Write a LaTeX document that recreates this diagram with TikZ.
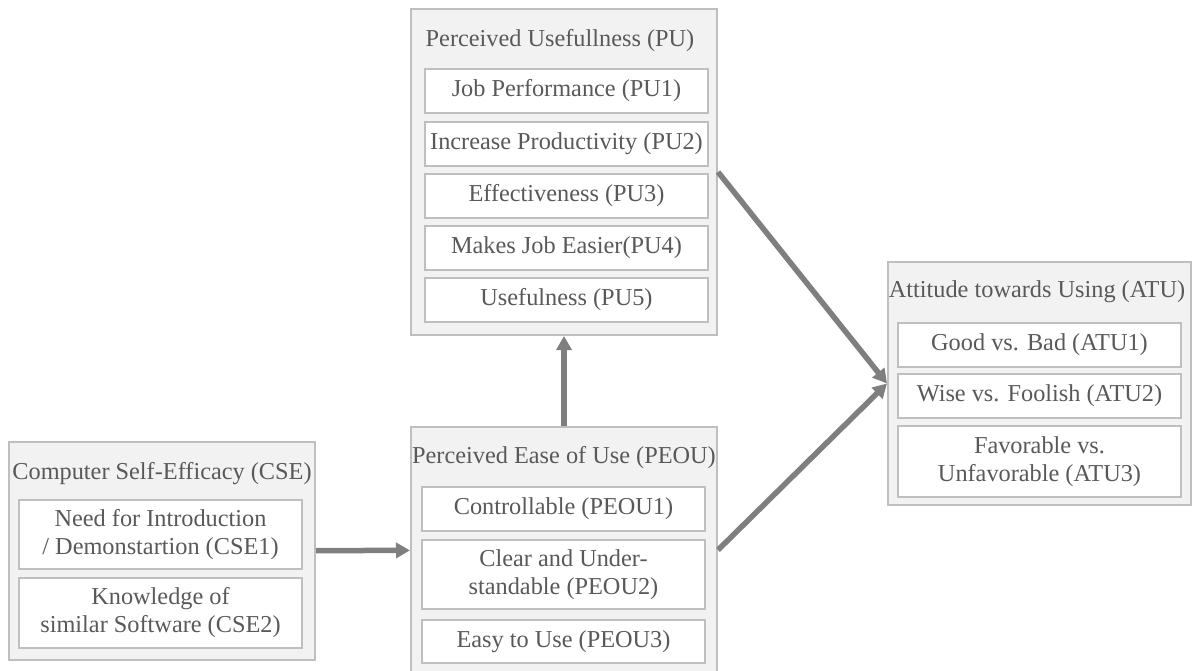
\documentclass[tikz,border=0pt]{standalone}
\usepackage{fontspec}
\setmainfont{Liberation Serif}
\usepackage{tikz}
\usetikzlibrary{arrows.meta}
\definecolor{boxgray}{RGB}{191, 191, 191}
\definecolor{panelgray}{RGB}{242, 242, 242}
\definecolor{textgray}{RGB}{89, 89, 89}
\definecolor{arrowgray}{RGB}{127, 127, 127}

\begin{document}
\begin{tikzpicture}[x=1pt, y=-1pt,
  panel/.style={rectangle, draw=boxgray, fill=panelgray, line width=2pt, inner sep=0pt, minimum width=306pt},
  item/.style={rectangle, draw=boxgray, fill=white, line width=2pt, inner sep=0pt, minimum width=283pt, text=textgray, align=center, font=\fontsize{24.3}{28}\selectfont},
  heading/.style={anchor=base, inner sep=0pt, text=textgray, font=\fontsize{24.3}{28}\selectfont},
  link/.style={-{Triangle[length=14pt, width=15pt]}, line width=5.5pt, arrowgray}]
\useasboundingbox (0,0) rectangle (1192,671);
% Construct panels
\node[panel, minimum height=326pt] (pu) at (564,172) {};
\node[panel, minimum height=246pt] (peou) at (564,550) {};
\node[panel, minimum height=218pt] (cse) at (162,551) {};
\node[panel, minimum width=303pt, minimum height=243pt] (atu) at (1039.5,383.5) {};
% Panel titles
\node[heading] (putitle) at (560,47) {Perceived Usefullness (PU)};
\node[heading] (peoutitle) at (564,463) {Perceived Ease of Use (PEOU)};
\node[heading] (csetitle) at (162,479) {Computer Self-Efficacy (CSE)};
\node[heading] (atutitle) at (1037,298) {Attitude towards Using (ATU)};
% Indicator items
\foreach \x/\y/\h/\name/\txt in {
    566.5/91/44/pu1/{Job Performance (PU1)},
    566.5/144/44/pu2/{Increase Productivity (PU2)},
    566.5/196/44/pu3/{Effectiveness (PU3)},
    566.5/248/44/pu4/{Makes Job Easier(PU4)},
    566.5/300/44/pu5/{Usefulness (PU5)},
    563.5/509/44/peou1/{Controllable (PEOU1)},
    563.5/574.5/69/peou2/{Clear and Under-\\standable (PEOU2)},
    563.5/641.5/43/peou3/{Easy to Use (PEOU3)},
    160.5/534.5/69/cse1/{Need for Introduction\\/ Demonstartion (CSE1)},
    160.5/613/70/cse2/{Knowledge of\\similar Software (CSE2)},
    1039.5/345/44/atu1/{Good vs. Bad (ATU1)},
    1039.5/396/44/atu2/{Wise vs. Foolish (ATU2)},
    1039.5/461.5/71/atu3/{Favorable vs.\\Unfavorable (ATU3)}} {
    \node[item, minimum height=\h pt] (\name) at (\x,\y) {\txt};
}
% Paths
\draw[link] (cse) -- (peou);
\draw[link] (peou) -- (pu);
\draw[link] (pu.east) -- (atu.west);
\draw[link] (peou.east) -- (atu.west);
\end{tikzpicture}
\end{document}
